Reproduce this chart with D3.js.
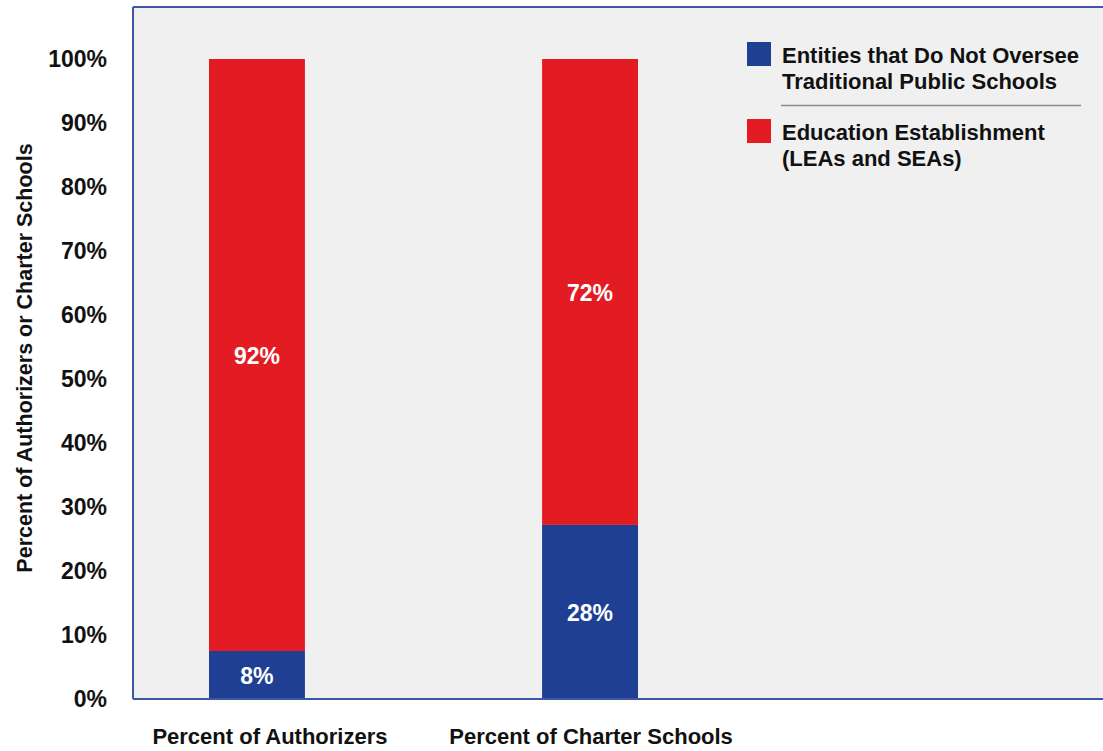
<!DOCTYPE html>
<html>
<head>
<meta charset="utf-8">
<script src="https://cdn.jsdelivr.net/npm/d3@7"></script>
<style>
  html, body { margin: 0; padding: 0; background: #ffffff; }
  svg { display: block; font-family: "Liberation Sans", Arial, sans-serif; }
</style>
</head>
<body>
<svg id="chart" width="1103" height="751"></svg>
<script>
// ---- data ----
const categories = ["Percent of Authorizers", "Percent of Charter Schools"];
const seriesNames = ["Entities that Do Not Oversee Traditional Public Schools", "Education Establishment (LEAs and SEAs)"];
const notOverseeValues = [7.5, 27.2];
const establishmentValues = [92.5, 72.8];
const notOverseeLabels = ["8%", "28%"];
const establishmentLabels = ["92%", "72%"];
const yTicks = [0, 10, 20, 30, 40, 50, 60, 70, 80, 90, 100];
const legendLines = [["Entities that Do Not Oversee", "Traditional Public Schools"], ["Education Establishment", "(LEAs and SEAs)"]];

// ---- styles ----
const blue = "#1e3f94";
const red = "#e31c24";
const bg = "#f0f0f0";
const frame = "#3f57a6";

const svg = d3.select("#chart");
const plot = { left: 133, top: 7, right: 1103, bottom: 699 };

const y = d3.scaleLinear().domain([0, 100]).range([699, 59]);
const x = d3.scaleBand().domain(categories).range([209, 638]).paddingInner(0.712).paddingOuter(0);

// plot background
svg.append("rect")
  .attr("x", plot.left).attr("y", plot.top)
  .attr("width", plot.right - plot.left).attr("height", plot.bottom - plot.top)
  .attr("fill", bg);

// stacked data
const rows = categories.map((c, i) => ({
  cat: c,
  notOversee: notOverseeValues[i],
  establishment: establishmentValues[i]
}));
const stack = d3.stack().keys(["notOversee", "establishment"]);
const stacked = stack(rows);
const colors = { notOversee: blue, establishment: red };
const labels = { notOversee: notOverseeLabels, establishment: establishmentLabels };

stacked.forEach(layer => {
  const g = svg.append("g");
  g.selectAll("rect").data(layer).join("rect")
    .attr("x", d => x(d.data.cat))
    .attr("width", x.bandwidth())
    .attr("y", d => y(d[1]))
    .attr("height", d => y(d[0]) - y(d[1]))
    .attr("fill", colors[layer.key]);
  g.selectAll("text").data(layer).join("text")
    .attr("x", d => x(d.data.cat) + x.bandwidth() / 2)
    .attr("y", d => (y(d[0]) + y(d[1])) / 2 + 1)
    .attr("text-anchor", "middle")
    .attr("dominant-baseline", "central")
    .attr("fill", "#ffffff")
    .attr("font-size", 23)
    .attr("font-weight", "bold")
    .text((d, i) => labels[layer.key][i]);
});

// frame: top, left, bottom
svg.append("line").attr("x1", plot.left).attr("x2", plot.right).attr("y1", plot.top).attr("y2", plot.top)
  .attr("stroke", frame).attr("stroke-width", 2);
svg.append("line").attr("x1", plot.left).attr("x2", plot.left).attr("y1", plot.top).attr("y2", plot.bottom)
  .attr("stroke", frame).attr("stroke-width", 2);
svg.append("line").attr("x1", plot.left).attr("x2", plot.right).attr("y1", plot.bottom).attr("y2", plot.bottom)
  .attr("stroke", frame).attr("stroke-width", 2);

// y axis labels
const yAxis = d3.axisLeft(y).tickValues(yTicks).tickFormat(d => d + "%").tickSize(0).tickPadding(0);
const yg = svg.append("g").attr("transform", "translate(107,0)").call(yAxis);
yg.select(".domain").remove();
yg.selectAll("text")
  .attr("font-family", "Liberation Sans, Arial, sans-serif")
  .attr("font-size", 23).attr("font-weight", "bold").attr("fill", "#111");

// x axis labels
const xAxis = d3.axisBottom(x).tickSize(0).tickPadding(0);
const xg = svg.append("g").attr("transform", "translate(0,728)").call(xAxis);
xg.select(".domain").remove();
xg.selectAll("text")
  .attr("font-family", "Liberation Sans, Arial, sans-serif")
  .attr("font-size", 22).attr("font-weight", "bold").attr("fill", "#111")
  .attr("dy", "0.71em")
  .attr("dx", (d, i) => i === 0 ? 13 : 1);

// y axis title
svg.append("text")
  .attr("transform", "translate(32,358) rotate(-90)")
  .attr("text-anchor", "middle")
  .attr("font-size", 21.5).attr("font-weight", "bold").attr("fill", "#111")
  .text("Percent of Authorizers or Charter Schools");

// legend
const legend = svg.append("g");
const legendColors = [blue, red];
const legendTop = [42, 119];
legendLines.forEach((lines, i) => {
  legend.append("rect").attr("x", 747).attr("y", legendTop[i]).attr("width", 24).attr("height", 24)
    .attr("fill", legendColors[i]);
  lines.forEach((t, j) => {
    legend.append("text")
      .attr("x", 782).attr("y", legendTop[i] + 21 + j * 25.5)
      .attr("font-size", 22).attr("font-weight", "bold").attr("fill", "#111")
      .text(t);
  });
});
legend.append("line").attr("x1", 781).attr("x2", 1081).attr("y1", 105.5).attr("y2", 105.5)
  .attr("stroke", "#8a8a8a").attr("stroke-width", 1.5);
</script>
</body>
</html>
